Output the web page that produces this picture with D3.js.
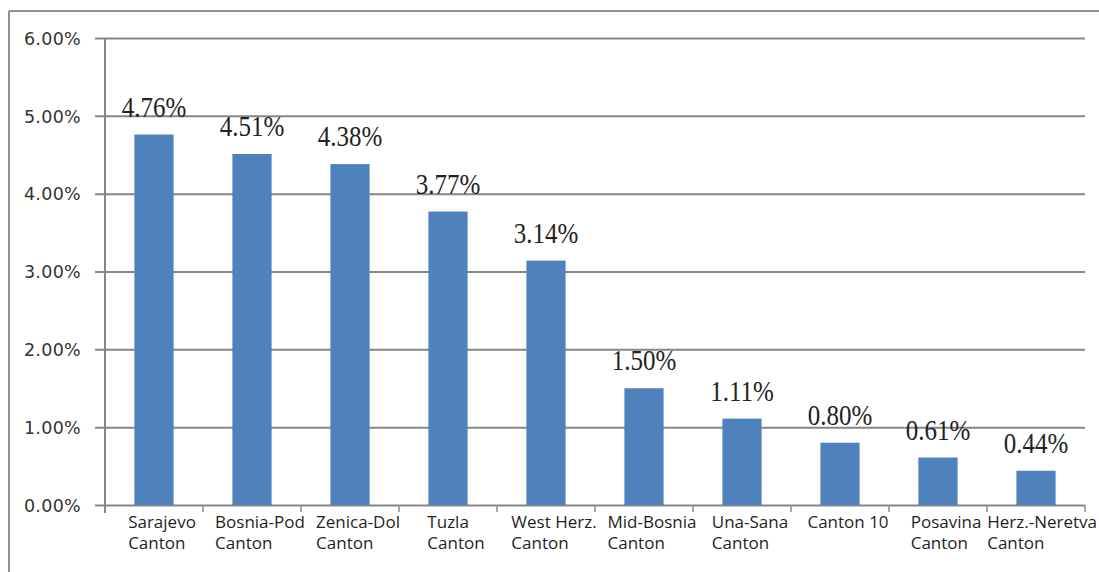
<!DOCTYPE html>
<html>
<head>
<meta charset="utf-8">
<script src="https://cdn.jsdelivr.net/npm/d3@7"></script>
<style>
  html, body { margin: 0; padding: 0; background: #fff; }
  svg { display: block; }
</style>
</head>
<body>
<svg id="chart" width="1099" height="572"></svg>
<script>
const categories = [
  ["Sarajevo", "Canton"],
  ["Bosnia-Pod", "Canton"],
  ["Zenica-Dol", "Canton"],
  ["Tuzla", "Canton"],
  ["West Herz.", "Canton"],
  ["Mid-Bosnia", "Canton"],
  ["Una-Sana", "Canton"],
  ["Canton 10"],
  ["Posavina", "Canton"],
  ["Herz.-Neretva", "Canton"]
];
const values = [4.76, 4.51, 4.38, 3.77, 3.14, 1.50, 1.11, 0.80, 0.61, 0.44];
const yTicks = [0, 1, 2, 3, 4, 5, 6];

const svg = d3.select("#chart");
const W = 1099, H = 572;
const margin = { left: 105, right: 14, top: 38, bottom: 67 };
const plotR = W - margin.right;
const plotB = H - margin.bottom;

// outer chart border (top and left visible)
svg.append("line").attr("x1", 9).attr("x2", W).attr("y1", 11).attr("y2", 11)
  .attr("stroke", "#8f8f8f").attr("stroke-width", 2);
svg.append("line").attr("x1", 9).attr("x2", 9).attr("y1", 11).attr("y2", H)
  .attr("stroke", "#8f8f8f").attr("stroke-width", 2);

const keys = categories.map((c, i) => i);
const x = d3.scaleBand().domain(keys).range([margin.left, plotR]).paddingInner(0).paddingOuter(0);
const y = d3.scaleLinear().domain([0, 6]).range([plotB, margin.top]);

// gridlines + y ticks
const yAxis = d3.axisLeft(y).tickValues(yTicks).tickSize(-(plotR - margin.left))
  .tickFormat(d => d.toFixed(2) + "%").tickPadding(24);
const gy = svg.append("g").attr("transform", `translate(${margin.left},0)`).call(yAxis);
gy.select(".domain").remove();
gy.selectAll(".tick line").attr("stroke", "#868686").attr("stroke-width", 2).attr("x1", -10);
gy.selectAll(".tick text")
  .attr("font-family", "DejaVu Sans, sans-serif").attr("font-size", 17.5)
  .attr("fill", "#333").attr("dy", "0.36em").attr("letter-spacing", "0.3px");

// y axis line
svg.append("line").attr("x1", margin.left).attr("x2", margin.left)
  .attr("y1", margin.top).attr("y2", plotB + 8)
  .attr("stroke", "#868686").attr("stroke-width", 2);

// category tick marks
const bounds = keys.map(k => x(k)).concat([plotR]);
svg.append("g").selectAll("line").data(bounds.slice(1)).join("line")
  .attr("x1", d => d).attr("x2", d => d).attr("y1", plotB).attr("y2", plotB + 7)
  .attr("stroke", "#8c8c8c").attr("stroke-width", 1.5);

// bars
const bw = x.bandwidth() / 2.5;
svg.append("g").selectAll("rect").data(values).join("rect")
  .attr("x", (d, i) => x(i) + x.bandwidth() / 2 - bw / 2)
  .attr("width", bw)
  .attr("y", d => y(d))
  .attr("height", d => plotB - y(d))
  .attr("fill", "#4f81bd");

// data labels (slightly tall serif, as in the reference)
svg.append("g").selectAll("text").data(values).join("text")
  .attr("transform", (d, i) => `translate(${x(i) + x.bandwidth() / 2},${y(d) - 18}) scale(1,1.15)`)
  .attr("text-anchor", "middle")
  .attr("font-family", "Liberation Serif, serif")
  .attr("font-size", 25)
  .attr("fill", "#222")
  .text(d => d.toFixed(2) + "%");

// category labels
const cg = svg.append("g");
let prevRight = -Infinity;
categories.forEach((lines, i) => {
  const t = cg.append("text")
    .attr("font-family", "Open Sans, sans-serif")
    .attr("font-size", 17)
    .attr("fill", "#1f1f1f");
  lines.forEach((ln, j) => {
    t.append("tspan").attr("x", 0).attr("y", plotB + 23 + j * 21).text(ln);
  });
  const w = d3.max(t.selectAll("tspan").nodes(), n => n.getComputedTextLength());
  let left = x(i) + x.bandwidth() / 2 + 8 - w / 2;
  left = Math.min(left, W - 2 - w);
  left = Math.max(left, prevRight + 3);
  prevRight = left + w;
  t.selectAll("tspan").attr("x", left);
});
</script>
</body>
</html>
